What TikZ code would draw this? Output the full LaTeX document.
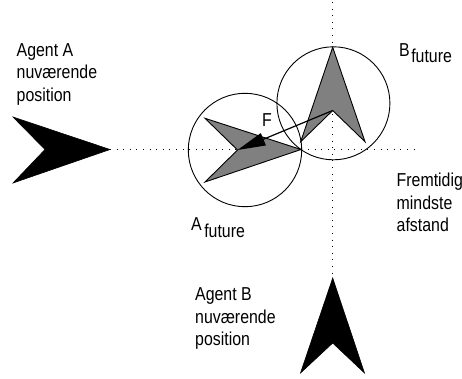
\documentclass[tikz,border=0pt]{standalone}
\usepackage{fontspec}
\setmainfont[FakeStretch=0.85]{Liberation Sans}
\usetikzlibrary{arrows.meta}
\begin{document}
\begin{tikzpicture}[x=1pt,y=-1pt,
  lbl/.style={inner sep=0pt,anchor=base west,align=left,
    font=\fontsize{18.7}{22.5}\selectfont},
  guide/.style={line width=0.9pt,dash pattern=on 1pt off 5.6pt},
  agentnow/.style={fill=black,draw=black,line width=0.6pt,line join=miter},
  agentfut/.style={fill=black!50,draw=black,line width=0.9pt,line join=miter},
  zone/.style={draw=black,line width=0.9pt},
  force/.style={line width=1.2pt,-{Triangle[length=28pt,width=13pt]}}]
\useasboundingbox[fill=white] (0,0) rectangle (462,378);

% reference points
\coordinate (anow) at (110,149.5);
\coordinate (bnow) at (332.7,278);
\coordinate (atop) at (332.7,2);
\coordinate (hend) at (414,149.5);
\coordinate (anotch) at (237.5,150);
\coordinate (bnotch) at (332.7,110.5);

% guide lines through the current positions
\draw[guide] (anow) -- (hend);
\draw[guide] (atop) -- (bnow);

% agents at their current positions
\path[agentnow] (13,117) -- (anow) -- (13,183) -- (45,149.5) -- cycle;
\path[agentnow] (bnow) -- (364.5,373) -- (332.7,343) -- (300.5,373) -- cycle;

% predicted positions
\path[agentfut] (301,149.5) -- (205,118.3) -- (anotch) -- (205,182) -- cycle;
\path[agentfut] (332.7,47.3) -- (365,141.7) -- (bnotch) -- (300.7,141.7) -- cycle;

% safety zones
\draw[zone] (245,150) circle[radius=56.7];
\draw[zone] (333.4,103.3) circle[radius=56.5];

% repulsive force
\draw[force] (bnotch) -- (anotch);
\node[lbl] (flbl) at (262,126.7) {F};

% labels (anchored at the baseline of the last line)
\node[lbl] (alabel) at (16.5,101.2) {Agent A\\nuværende\\position};
\node[lbl] (blabel) at (195,345.5) {Agent B\\nuværende\\position};
\node[lbl] (dlabel) at (396.5,231.5) {Fremtidig\\mindste\\afstand};
\node[lbl] (afut) at (191,230.7) {A\hspace{2.5pt}\raisebox{-6.7pt}{future}};
\node[lbl] (bfut) at (399,56.7) {B\hspace{1.5pt}\raisebox{-6pt}{future}};
\end{tikzpicture}
\end{document}
